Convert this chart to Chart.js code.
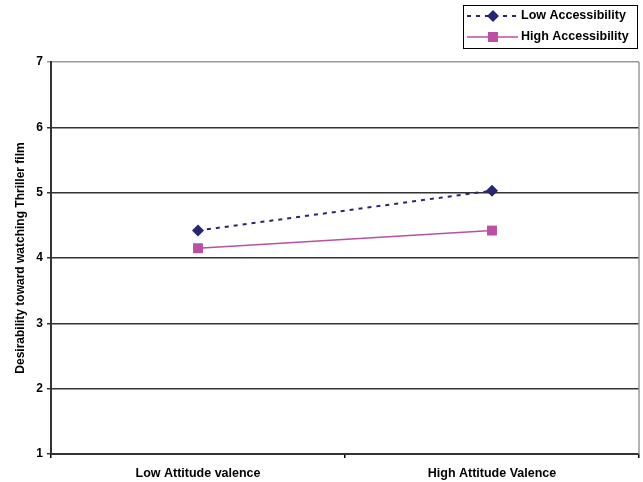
<!DOCTYPE html>
<html lang="en">
<head>
  <meta charset="UTF-8" />
  <title>Desirability toward watching Thriller film</title>
  <script src="https://cdn.jsdelivr.net/npm/chart.js"></script>
  <style>
    html, body { margin: 0; padding: 0; background: #fff; }
    #wrap { width: 643px; height: 482px; position: relative; }
  </style>
</head>
<body>
<div id="wrap"><canvas id="chart"></canvas></div>
<script>
const categories = ['Low Attitude valence', 'High Attitude Valence'];
const lowAccess = [4.42, 5.03];
const highAccess = [4.15, 4.42];
const seriesNames = ['Low Accessibility', 'High Accessibility'];
const yTicks = [1, 2, 3, 4, 5, 6, 7];

const FONT = 'Liberation Sans, Arial, sans-serif';

// plot frame: gray right edge (top edge comes from the y=7 grid line)
const framePlugin = {
  id: 'frame',
  afterDraw(chart) {
    const { ctx, chartArea: a } = chart;
    ctx.save();
    ctx.strokeStyle = '#999';
    ctx.lineWidth = 1.5;
    ctx.beginPath();
    ctx.moveTo(a.right, a.top);
    ctx.lineTo(a.right, a.bottom);
    ctx.stroke();
    ctx.restore();
  }
};

// boxed legend in the top right corner, line sample with marker
const boxLegend = {
  id: 'boxLegend',
  afterDraw(chart) {
    const { ctx } = chart;
    const x0 = 463, y0 = 5, w = 174, h = 43;
    ctx.save();
    ctx.strokeStyle = '#000';
    ctx.lineWidth = 1;
    ctx.strokeRect(x0 + 0.5, y0 + 0.5, w, h);
    ctx.font = 'bold 12.5px ' + FONT;
    ctx.textBaseline = 'middle';
    chart.data.datasets.forEach((ds, i) => {
      const y = y0 + 11 + i * 21;
      ctx.strokeStyle = ds.borderColor;
      ctx.lineWidth = ds.borderWidth;
      ctx.setLineDash(ds.borderDash || []);
      ctx.beginPath();
      ctx.moveTo(x0 + 4, y);
      ctx.lineTo(x0 + 55, y);
      ctx.stroke();
      ctx.setLineDash([]);
      ctx.fillStyle = ds.pointBackgroundColor;
      const cx = x0 + 30;
      if (ds.pointStyle === 'rectRot') {
        ctx.beginPath();
        ctx.moveTo(cx, y - 6); ctx.lineTo(cx + 6, y); ctx.lineTo(cx, y + 6); ctx.lineTo(cx - 6, y);
        ctx.closePath(); ctx.fill();
      } else {
        ctx.fillRect(cx - 5, y - 5, 10, 10);
      }
      ctx.fillStyle = '#000';
      ctx.fillText(seriesNames[i], x0 + 58, y);
    });
    ctx.restore();
  }
};

new Chart(document.getElementById('chart'), {
  type: 'line',
  data: {
    labels: categories,
    datasets: [
      {
        label: seriesNames[0],
        data: lowAccess,
        borderColor: '#262673',
        borderWidth: 2,
        borderDash: [4, 5],
        pointStyle: 'rectRot',
        pointRadius: 6,
        pointBackgroundColor: '#262673',
        pointBorderColor: '#262673',
        pointBorderWidth: 0
      },
      {
        label: seriesNames[1],
        data: highAccess,
        borderColor: '#BA4FA3',
        borderWidth: 1.5,
        pointStyle: 'rect',
        pointRadius: 7,
        pointBackgroundColor: '#BA4FA3',
        pointBorderColor: '#BA4FA3',
        pointBorderWidth: 0
      }
    ]
  },
  options: {
    responsive: true,
    maintainAspectRatio: false,
    animation: false,
    layout: { autoPadding: false, padding: { top: 62, right: 4, left: 0, bottom: 0 } },
    plugins: { legend: { display: false }, tooltip: { enabled: false } },
    scales: {
      x: {
        offset: true,
        grid: { offset: true, drawOnChartArea: false, tickLength: 4, color: '#000', lineWidth: 1.5 },
        border: { color: '#333', width: 2 },
        ticks: { color: '#000', font: { family: FONT, size: 12.5, weight: 'bold' }, padding: 8, maxRotation: 0 },
        afterFit(s) { s.height = 28; s.paddingLeft = 0; s.paddingRight = 0; }
      },
      y: {
        min: 1,
        max: 7,
        afterBuildTicks(s) { s.ticks = yTicks.map(v => ({ value: v })); },
        grid: {
          color: c => (c.tick && c.tick.value === 7 ? '#999' : '#333'),
          lineWidth: 1.5,
          tickLength: 4
        },
        border: { color: '#333', width: 2 },
        ticks: { color: '#000', font: { family: FONT, size: 12, weight: 'bold' }, padding: 4 },
        title: {
          display: true,
          text: 'Desirability toward watching Thriller film',
          color: '#000',
          font: { family: FONT, size: 12, weight: 'bold' },
          padding: { top: 13, bottom: 6 }
        },
        afterFit(s) { s.width = 51; }
      }
    }
  },
  plugins: [framePlugin, boxLegend]
});
</script>
</body>
</html>
